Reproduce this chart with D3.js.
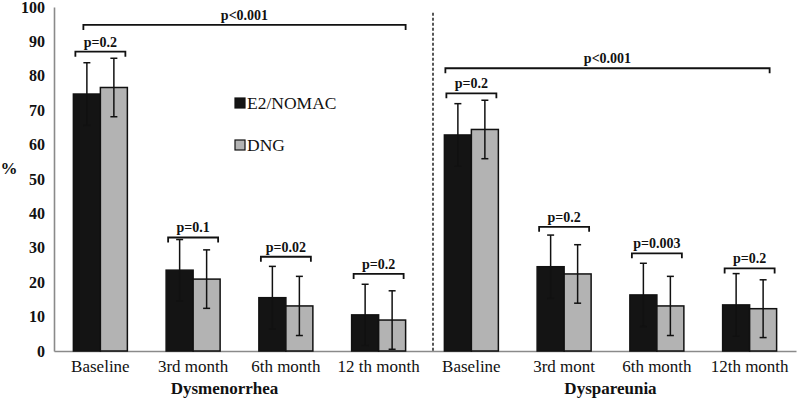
<!DOCTYPE html>
<html>
<head>
<meta charset="utf-8">
<script src="https://cdn.jsdelivr.net/npm/d3@7/dist/d3.min.js"></script>
<style>
  html, body { margin: 0; padding: 0; background: #fff; }
  svg { display: block; }
</style>
</head>
<body>
<svg id="chart" width="797" height="400"></svg>
<script>
// ---- data ----
const categories = ["Baseline", "3rd month", "6th month", "12 th month",
                    "Baseline", "3rd mont", "6th month", "12th month"];
const groups = ["Dysmenorrhea", "Dyspareunia"];
const seriesNames = ["E2/NOMAC", "DNG"];
const e2Values  = [74.7, 23.5, 15.5, 10.5, 62.8, 24.5, 16.3, 13.4];
const dngValues = [76.6, 20.9, 13.1, 9.0, 64.4, 22.4, 13.1, 12.3];
const e2Err     = [9.1, 8.9, 9.1, 8.9, 9.1, 9.2, 9.2, 9.1];
const dngErr    = [8.5, 8.5, 8.6, 8.5, 8.5, 8.5, 8.6, 8.4];
const pairPValues = ["p=0.2", "p=0.1", "p=0.02", "p=0.2", "p=0.2", "p=0.2", "p=0.003", "p=0.2"];
const pairLevels  = [87.0, 33.0, 27.4, 22.4, 74.9, 36.1, 28.4, 24.0];
const overallPValues = ["p<0.001", "p<0.001"];
const overallLevels  = [94.8, 82.2];
const overallSpans   = [[0, 3], [4, 7]];
const yTicks = [0, 10, 20, 30, 40, 50, 60, 70, 80, 90, 100];

// ---- layout ----
const svg = d3.select("#chart");
const plotLeft = 54, plotRight = 796, plotTop = 7, plotBottom = 351;
const FONT = "'Liberation Serif', 'Times New Roman', Times, serif";
const colors = ["#141414", "#b3b3b3"];

function txt(sel, size, bold) {
  return sel.attr("font-family", FONT).style("font-family", FONT)
    .style("font-size", size + "px").style("font-weight", bold ? "bold" : "normal")
    .attr("fill", "#111");
}

const idx = d3.range(categories.length);
const x = d3.scaleBand().domain(idx).range([plotLeft, plotRight]).padding(0);
const xs = d3.scaleBand().domain(seriesNames).range([0, x.bandwidth()]).paddingInner(0).paddingOuter(0.718);
const y = d3.scaleLinear().domain([0, 100]).range([plotBottom, plotTop]);
const center = i => x(i) + x.bandwidth() / 2;

// ---- axes ----
const yAxis = svg.append("g").attr("transform", `translate(${plotLeft},0)`)
  .call(d3.axisLeft(y).tickValues(yTicks).tickSize(0).tickPadding(9).tickFormat(d3.format("d")));
yAxis.attr("font-family", null);
yAxis.select(".domain").attr("stroke", "#8a8a8a").attr("stroke-width", 1.6);
txt(yAxis.selectAll("text"), 16, true);

const xAxis = svg.append("g").attr("transform", `translate(0,${plotBottom})`)
  .call(d3.axisBottom(x).tickSize(0).tickPadding(9).tickFormat(i => categories[i]));
xAxis.attr("font-family", null);
xAxis.select(".domain").attr("stroke", "#8a8a8a").attr("stroke-width", 1.6);
txt(xAxis.selectAll("text"), 17, false);

// divider
svg.append("line")
  .attr("x1", x(4) + 8).attr("x2", x(4) + 8)
  .attr("y1", y(98.3)).attr("y2", plotBottom)
  .attr("stroke", "#222").attr("stroke-width", 1.5).attr("stroke-dasharray", "3,2");

// ---- bars ----
const rows = idx.map(i => [
  { i, s: seriesNames[0], v: e2Values[i], e: e2Err[i], c: colors[0] },
  { i, s: seriesNames[1], v: dngValues[i], e: dngErr[i], c: colors[1] }
]).flat();

svg.append("g").selectAll("rect").data(rows).join("rect")
  .attr("x", d => x(d.i) + xs(d.s))
  .attr("width", xs.bandwidth())
  .attr("y", d => y(d.v))
  .attr("height", d => y(0) - y(d.v))
  .attr("fill", d => d.c)
  .attr("stroke", "#111").attr("stroke-width", 1.5);

// error bars
const eg = svg.append("g").attr("stroke", "#111").attr("stroke-width", 1.5);
rows.forEach(d => {
  const cx = x(d.i) + xs(d.s) + xs.bandwidth() / 2;
  eg.append("line").attr("x1", cx).attr("x2", cx).attr("y1", y(d.v + d.e)).attr("y2", y(d.v - d.e));
  eg.append("line").attr("x1", cx - 3.5).attr("x2", cx + 3.5).attr("y1", y(d.v + d.e)).attr("y2", y(d.v + d.e));
  eg.append("line").attr("x1", cx - 3.5).attr("x2", cx + 3.5).attr("y1", y(d.v - d.e)).attr("y2", y(d.v - d.e));
});

// ---- brackets ----
function bracket(x1, x2, yy, label) {
  const g = svg.append("g");
  g.append("path")
    .attr("d", `M${x1},${yy + 5}V${yy}H${x2}V${yy + 5}`)
    .attr("fill", "none").attr("stroke", "#111").attr("stroke-width", 1.8);
  txt(g.append("text").attr("x", (x1 + x2) / 2).attr("y", yy - 5)
    .attr("text-anchor", "middle"), 14, true).text(label);
}
idx.forEach(i => bracket(center(i) - 25, center(i) + 25, y(pairLevels[i]), pairPValues[i]));
const overallOffsets = [[-17, 27], [-26, 20]];
overallSpans.forEach((sp, k) => bracket(center(sp[0]) + overallOffsets[k][0],
  center(sp[1]) + overallOffsets[k][1], y(overallLevels[k]), overallPValues[k]));

// ---- group labels ----
const groupOffsets = [-15, 0];
groups.forEach((g, k) => {
  const cx = (center(k * 4) + center(k * 4 + 3)) / 2 + groupOffsets[k];
  txt(svg.append("text").attr("x", cx).attr("y", 394).attr("text-anchor", "middle"), 17, true).text(g);
});

// y label
txt(svg.append("text").attr("x", 9).attr("y", 174).attr("text-anchor", "middle"), 17, true).text("%");

// ---- legend ----
const lg = svg.append("g").attr("transform", "translate(235,98)");
seriesNames.forEach((s, k) => {
  lg.append("rect").attr("x", 0).attr("y", k * 42).attr("width", 10).attr("height", 10)
    .attr("fill", colors[k]).attr("stroke", "#111").attr("stroke-width", 1.2);
  txt(lg.append("text").attr("x", 12).attr("y", k * 42 + 11), 17.5, false).text(s);
});
</script>
</body>
</html>
